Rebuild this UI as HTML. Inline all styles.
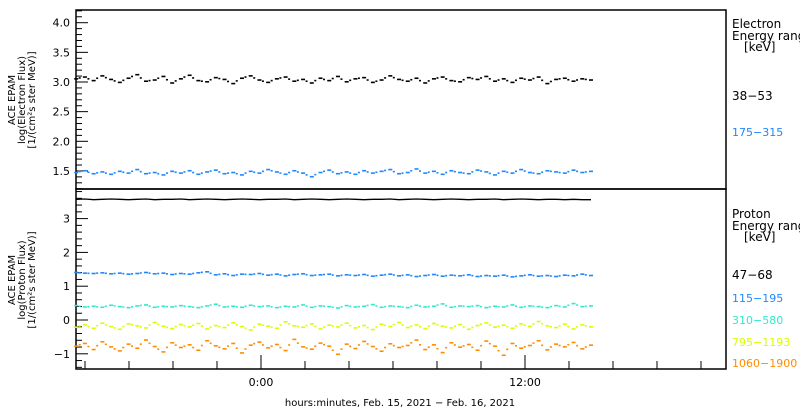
<!DOCTYPE html>
<html><head><meta charset="utf-8"><style>
body{margin:0;background:#fff;width:800px;height:410px;overflow:hidden}
svg{display:block;font-family:"DejaVu Sans","Liberation Sans",sans-serif}
</style></head><body>
<svg id="c" width="800" height="410" viewBox="0 0 800 410" xmlns="http://www.w3.org/2000/svg">
<g id="g"></g>
</svg>
<script>
const xTickHours=[-8,-6,-4,-2,0,2,4,6,8,10,12,14,16,18,20];
const xLabels=[[0,"0:00"],[12,"12:00"]];
const topTicks=["1.5","2.0","2.5","3.0","3.5","4.0"];
const botTicks=["-1","0","1","2","3"];
const e38=[3.05,3.08,3.02,3.10,3.04,2.99,3.06,3.12,3.01,3.03,3.09,2.98,3.05,3.11,3.02,3.00,3.07,3.04,2.97,3.06,3.10,3.03,2.99,3.05,3.08,3.01,3.04,2.98,3.06,3.02,3.09,3.00,3.05,3.07,2.99,3.03,3.10,3.04,3.01,3.06,2.98,3.05,3.08,3.02,3.00,3.07,3.04,3.09,3.01,3.05,2.99,3.06,3.03,3.08,2.97,3.04,3.06,3.01,3.05,3.03];
const e175=[1.47,1.50,1.45,1.48,1.44,1.49,1.46,1.52,1.45,1.47,1.43,1.49,1.46,1.50,1.44,1.48,1.51,1.45,1.47,1.43,1.49,1.46,1.52,1.48,1.44,1.50,1.46,1.40,1.47,1.51,1.45,1.48,1.44,1.50,1.46,1.49,1.52,1.45,1.47,1.53,1.46,1.49,1.44,1.50,1.47,1.45,1.51,1.48,1.43,1.49,1.46,1.52,1.47,1.45,1.50,1.48,1.46,1.51,1.47,1.49];
const p47=[3.57,3.58,3.56,3.57,3.58,3.57,3.56,3.57,3.58,3.56,3.57,3.57,3.58,3.56,3.57,3.58,3.57,3.56,3.57,3.58,3.57,3.56,3.57,3.57,3.58,3.56,3.57,3.58,3.57,3.56,3.57,3.58,3.57,3.56,3.57,3.57,3.58,3.56,3.57,3.58,3.57,3.56,3.57,3.58,3.57,3.56,3.57,3.57,3.58,3.56,3.57,3.58,3.57,3.56,3.57,3.57,3.56,3.57,3.56,3.56];
const p115=[1.40,1.38,1.37,1.39,1.36,1.38,1.35,1.37,1.40,1.36,1.38,1.34,1.37,1.35,1.39,1.42,1.33,1.36,1.31,1.35,1.34,1.37,1.32,1.35,1.30,1.34,1.36,1.31,1.33,1.35,1.30,1.33,1.31,1.34,1.29,1.32,1.35,1.30,1.33,1.28,1.31,1.34,1.29,1.32,1.30,1.33,1.28,1.31,1.29,1.32,1.27,1.30,1.33,1.29,1.31,1.28,1.32,1.30,1.35,1.31];
const p310=[0.42,0.38,0.40,0.37,0.43,0.39,0.36,0.41,0.44,0.37,0.40,0.38,0.42,0.39,0.36,0.41,0.46,0.38,0.40,0.37,0.43,0.39,0.41,0.36,0.40,0.38,0.44,0.37,0.41,0.39,0.35,0.42,0.38,0.40,0.45,0.37,0.41,0.39,0.36,0.43,0.38,0.40,0.47,0.37,0.41,0.39,0.42,0.36,0.40,0.38,0.44,0.37,0.41,0.39,0.36,0.42,0.38,0.48,0.39,0.41];
const p795=[-0.22,-0.15,-0.25,-0.10,-0.20,-0.28,-0.12,-0.18,-0.24,-0.08,-0.19,-0.26,-0.14,-0.21,-0.11,-0.27,-0.17,-0.23,-0.09,-0.20,-0.30,-0.13,-0.19,-0.25,-0.06,-0.18,-0.22,-0.12,-0.27,-0.16,-0.21,-0.10,-0.24,-0.17,-0.29,-0.13,-0.20,-0.08,-0.23,-0.15,-0.26,-0.11,-0.19,-0.24,-0.14,-0.28,-0.17,-0.09,-0.22,-0.16,-0.25,-0.12,-0.20,-0.05,-0.18,-0.23,-0.13,-0.27,-0.15,-0.21];
const p1060=[-0.78,-0.70,-0.88,-0.65,-0.80,-0.92,-0.72,-0.84,-0.60,-0.79,-0.95,-0.68,-0.82,-0.74,-0.90,-0.62,-0.77,-0.86,-0.70,-0.98,-0.75,-0.66,-0.83,-0.73,-0.91,-0.58,-0.80,-0.87,-0.69,-0.78,-1.02,-0.72,-0.85,-0.64,-0.79,-0.93,-0.71,-0.82,-0.76,-0.60,-0.88,-0.74,-0.97,-0.68,-0.81,-0.73,-0.90,-0.63,-0.78,-1.05,-0.70,-0.84,-0.76,-0.62,-0.89,-0.72,-0.80,-0.67,-0.86,-0.75];
const tStart=-8.4, tEnd=15.0;

const NS="http://www.w3.org/2000/svg";
const G=document.getElementById('g');
const L=76,R=726,T1=10,B1=189,T2=189,B2=369;
function xs(h){return 261+(h)*22;}
function y1(v){return 22.7+(4.0-v)*59.3;}
function y2(v){return 320-v*33.8;}
function mk(tag,attrs,parent){const e=document.createElementNS(NS,tag);for(const k in attrs)e.setAttribute(k,attrs[k]);(parent||G).appendChild(e);return e;}
function txt(x,y,s,size,fill,anchor,parent){const e=mk('text',{x:x,y:y,'font-size':size,fill:fill,'text-anchor':anchor||'start'},parent);e.textContent=s;return e;}

// frames
let f=mk('rect',{x:L,y:T1,width:R-L,height:B1-T1,fill:'none',stroke:'#000','stroke-width':1.5});

f=mk('rect',{x:L,y:T2,width:R-L,height:B2-T2,fill:'none',stroke:'#000','stroke-width':1.5});


// top y ticks
for(let v=1.2;v<=4.21;v+=0.1){const vv=Math.round(v*10)/10;const major=Math.abs(vv*2-Math.round(vv*2))<1e-6;const y=y1(vv);if(y<T1||y>B1)continue;
 const t=mk('line',{x1:L,x2:L+(major?12:6),y1:y,y2:y,stroke:'#000','stroke-width':1});}
topTicks.forEach(s=>{const t=txt(L-6,y1(parseFloat(s))+4,s,11,'#000','end');});
// bottom y ticks
for(let v=-1.4;v<=3.9;v+=0.2){const vv=Math.round(v*10)/10;const major=Math.abs(vv-Math.round(vv))<1e-6;const y=y2(vv);if(y<T2||y>B2)continue;
 const t=mk('line',{x1:L,x2:L+(major?12:6),y1:y,y2:y,stroke:'#000','stroke-width':1});}
botTicks.forEach(s=>{const t=txt(L-6,y2(parseFloat(s))+4,s.replace('-','\u2212'),11,'#000','end');});
// x ticks
xTickHours.forEach(h=>{const x=xs(h);if(x<L||x>R)return;const major=(h%12===0);
 const t=mk('line',{x1:x,x2:x,y1:B2,y2:B2-(major?14:8),stroke:'#000','stroke-width':1});});
xLabels.forEach(([h,s])=>{const t=txt(xs(h),386,s,11,'#000','middle');});
let xt=txt(400,406,'hours:minutes, Feb. 15, 2021 \u2212 Feb. 16, 2021',10,'#000','middle');

// y titles
function ytitle(cx,cy,lines,name){const g=mk('g',{transform:`translate(${cx},${cy}) rotate(-90)`});
 lines.forEach((s,i)=>{txt(0,(i-1)*10+3,s,10,'#000','middle',g);});}
ytitle(22,100,['ACE EPAM','log(Electron Flux)','[1/(cm\u00b2s ster MeV)]'],'top-y-axis-title');
ytitle(22,280,['ACE EPAM','log(Proton Flux)','[1/(cm\u00b2s ster MeV)]'],'bottom-y-axis-title');

// series
function series(arr,yf,color,name,line){const n=arr.length;const dt=(tEnd-tStart)/(n-1);const g=mk('g',{});
 if(line){const pts=arr.map((v,i)=>xs(tStart+i*dt).toFixed(1)+','+yf(v).toFixed(1)).join(' ');mk('polyline',{points:pts,fill:'none',stroke:color,'stroke-width':1.3},g);return;}
 arr.forEach((v,i)=>{const x=xs(tStart+i*dt);const y=yf(v);
  const r=mk('rect',{x:x-2,y:y-1,width:4,height:1.6,fill:color},g);
  if(i<n-1){const y2v=yf((v+arr[i+1])/2);const r2=mk('rect',{x:x+2.5,y:y2v-1,width:2,height:1.6,fill:color},g);}
 });}
series(e38,y1,'#000','electron-38-53',false);
series(e175,y1,'#1e87ff','electron-175-315',false);
series(p47,y2,'#000','proton-47-68',true);
series(p115,y2,'#1e87ff','proton-115-195',false);
series(p310,y2,'#33e8d0','proton-310-580',false);
series(p795,y2,'#d8ff00','proton-795-1193',false);
series(p1060,y2,'#ff8c00','proton-1060-1900',false);

// legends
function leg(x,y,s,size,c,name){const t=txt(x,y,s,size,c,'start');}
leg(732,28,'Electron',12,'#000','electron-legend-title');
leg(732,40,'Energy range',12,'#000','electron-legend-subtitle');
leg(744,51,'[keV]',12,'#000','electron-legend-unit');
leg(732,100,'38\u221253',12,'#000','legend-entry-38-53');
leg(732,136,'175\u2212315',11,'#1e87ff','legend-entry-175-315');
leg(732,218,'Proton',12,'#000','proton-legend-title');
leg(732,230,'Energy range',12,'#000','proton-legend-subtitle');
leg(744,241,'[keV]',12,'#000','proton-legend-unit');
leg(732,279,'47\u221268',12,'#000','legend-entry-47-68');
leg(732,302,'115\u2212195',11,'#1e87ff','legend-entry-115-195');
leg(732,324,'310\u2212580',11,'#33e8d0','legend-entry-310-580');
leg(732,346,'795\u22121193',11,'#d8ff00','legend-entry-795-1193');
leg(732,367,'1060\u22121900',11,'#ff8c00','legend-entry-1060-1900');
</script>
</body></html>
